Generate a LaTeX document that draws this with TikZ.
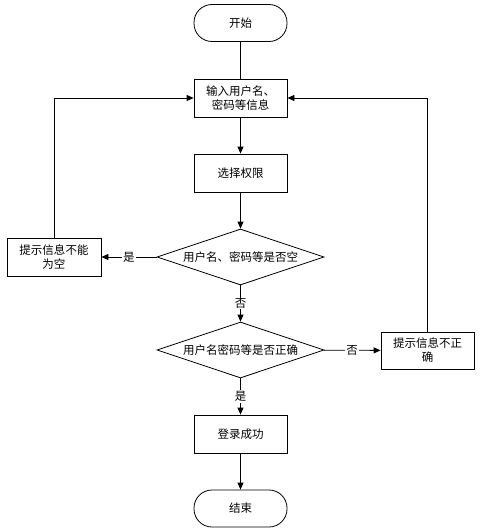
\documentclass[tikz,border=0pt]{standalone}
\usepackage{fontspec}
\setmainfont{Noto Sans CJK SC}
\usetikzlibrary{shapes.geometric,arrows.meta}
\begin{document}
\begin{tikzpicture}[x=1pt,y=-1pt,
  every node/.style={font=\fontsize{11.5}{14}\selectfont, inner sep=0pt},
  procbox/.style={draw, line width=0.8pt, minimum width=93pt, minimum height=38pt, align=center},
  termbox/.style={draw, line width=0.8pt, rounded corners=18pt, minimum width=93pt, minimum height=37pt},
  decbox/.style={draw, line width=0.8pt, diamond, aspect=3, minimum width=167pt, minimum height=56pt, inner sep=0pt},
  lbl/.style={fill=white, inner sep=1pt},
  conn/.style={line width=0.8pt},
  arr/.style={line width=0.8pt, -{Triangle[length=7pt,width=6pt]}}
]
\useasboundingbox (0,0) rectangle (480,532);
\node[termbox] (start) at (240.5,23) {开始};
\node[procbox] (input) at (240.5,98) {输入用户名、\\密码等信息};
\node[procbox] (sel) at (240.5,173) {选择权限};
\node[decbox] (d1) at (240.5,257) {用户名、密码等是否空};
\node[procbox, minimum width=94pt] (empty) at (54,257) {提示信息不能\\为空};
\node[decbox] (d2) at (240.5,350) {用户名密码等是否正确};
\node[procbox, minimum width=93pt, minimum height=37pt] (wrong) at (427.5,350.5) {提示信息不正\\确};
\node[procbox] (ok) at (240.5,434) {登录成功};
\node[termbox] (stop) at (240.5,508.5) {结束};

\draw[conn] (start) -- (input);
\draw[arr] (input) -- (sel);
\draw[arr] (sel) -- (d1);
\draw[arr] (d1) -- node[lbl] {是} (empty);
\draw[arr] (d1) -- node[lbl] {否} (d2);
\draw[arr] (d2) -- node[lbl] {否} (wrong);
\draw[arr] (d2) -- node[lbl] {是} (ok);
\draw[arr] (ok) -- (stop);
\draw[arr] (empty.north) |- (input.west);
\draw[arr] (wrong.north) |- (input.east);
\end{tikzpicture}
\end{document}
